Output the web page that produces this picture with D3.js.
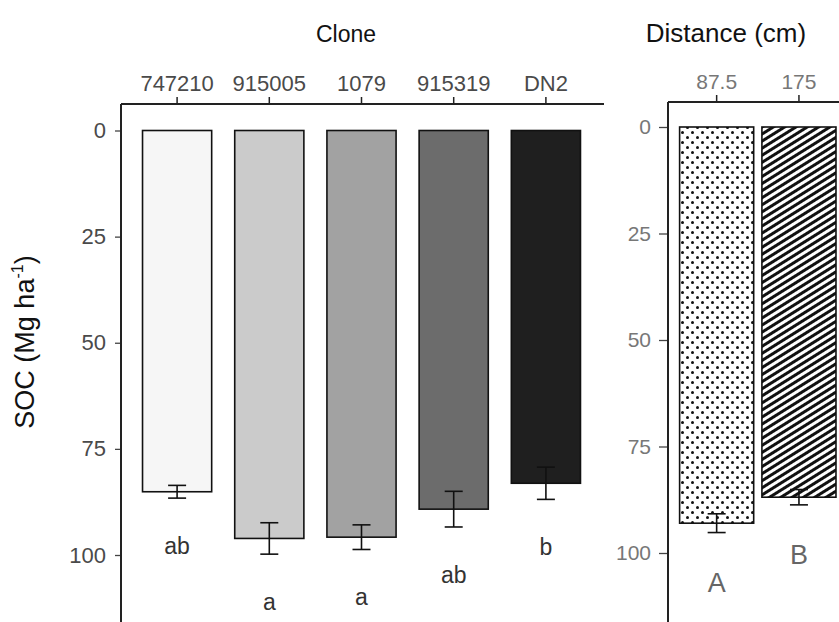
<!DOCTYPE html>
<html>
<head>
<meta charset="utf-8">
<script src="https://cdn.jsdelivr.net/npm/d3@7"></script>
<style>
  html, body { margin: 0; padding: 0; background: #fff; }
  svg { display: block; font-family: "Liberation Sans", Arial, sans-serif; }
</style>
</head>
<body>
<svg id="chart" width="839" height="622"></svg>
<script>
// Soil organic carbon stock by poplar clone and by distance from the tree row
const clones = ["747210", "915005", "1079", "915319", "DN2"];
const cloneSOC = [85.1, 96.1, 95.8, 89.2, 83.1];
const cloneSE = [1.5, 3.7, 2.9, 4.2, 3.8];
const cloneGroups = ["ab", "a", "a", "ab", "b"];

const distances = ["87.5", "175"];
const distanceSOC = [93.0, 86.9];
const distanceSE = [2.2, 1.8];
const distanceGroups = ["A", "B"];

const yTicks = [0, 25, 50, 75, 100];

const svg = d3.select("#chart");
const defs = svg.append("defs");

// stipple for the first distance
const dots = defs.append("pattern")
  .attr("id", "dots").attr("patternUnits", "userSpaceOnUse")
  .attr("width", 10).attr("height", 10);
dots.append("rect").attr("width", 10).attr("height", 10).attr("fill", "#fff");
dots.append("circle").attr("cx", 2.5).attr("cy", 2.5).attr("r", 1.5).attr("fill", "#111");
dots.append("circle").attr("cx", 7.5).attr("cy", 7.5).attr("r", 1.5).attr("fill", "#111");

// diagonal hatching for the second distance
const hatch = defs.append("pattern")
  .attr("id", "hatch").attr("patternUnits", "userSpaceOnUse")
  .attr("width", 10).attr("height", 6)
  .attr("patternTransform", "rotate(-32)");
hatch.append("rect").attr("width", 10).attr("height", 6).attr("fill", "#fff");
hatch.append("rect").attr("y", 0).attr("width", 10).attr("height", 3).attr("fill", "#111");

const cloneFill = d3.scaleOrdinal().domain(clones)
  .range(["#f6f6f6", "#cbcbcb", "#a2a2a2", "#6c6c6c", "#1f1f1f"]);
const distFill = d3.scaleOrdinal().domain(distances)
  .range(["url(#dots)", "url(#hatch)"]);

function panel(cfg) {
  const g = svg.append("g");
  const x = d3.scaleBand().domain(cfg.cats).range(cfg.xRange)
    .paddingInner(cfg.padIn).paddingOuter(cfg.padOut);
  const y = d3.scaleLinear().domain([0, 100]).range(cfg.yRange);

  // axes
  const top = g.append("g").attr("transform", `translate(0,${cfg.topY})`)
    .call(d3.axisTop(x).tickSize(7).tickSizeOuter(0).tickPadding(cfg.xPad));
  top.select(".domain").remove();
  top.selectAll("text").attr("font-size", cfg.xFont).attr("fill", cfg.labelColor)
    .attr("font-family", "Liberation Sans, Arial, sans-serif");
  top.selectAll("line").attr("stroke", "#222").attr("stroke-width", 1.5);
  g.append("line")
    .attr("x1", cfg.leftX).attr("x2", cfg.topEnd)
    .attr("y1", cfg.topY).attr("y2", cfg.topY)
    .attr("stroke", "#222").attr("stroke-width", 2);

  const left = g.append("g").attr("transform", `translate(${cfg.leftX},0)`)
    .call(d3.axisLeft(y).tickValues(yTicks).tickSize(cfg.yTickSize).tickSizeOuter(0)
      .tickPadding(cfg.yPad));
  left.select(".domain").remove();
  left.selectAll("text").attr("font-size", cfg.yFont).attr("fill", cfg.labelColor)
    .attr("font-family", "Liberation Sans, Arial, sans-serif");
  left.selectAll("line").attr("stroke", "#444").attr("stroke-width", 1.3);
  g.append("line")
    .attr("x1", cfg.leftX).attr("x2", cfg.leftX)
    .attr("y1", cfg.topY).attr("y2", 622)
    .attr("stroke", "#222").attr("stroke-width", 2);

  const rows = cfg.cats.map((c, i) => ({ c, m: cfg.mean[i], se: cfg.se[i], g: cfg.groups[i] }));

  // bars hang down from zero
  g.selectAll("rect.bar").data(rows).join("rect")
    .attr("class", "bar")
    .attr("x", d => x(d.c)).attr("width", x.bandwidth())
    .attr("y", y(0)).attr("height", d => y(d.m) - y(0))
    .attr("fill", d => cfg.fill(d.c))
    .attr("stroke", "#111").attr("stroke-width", 1.6);

  // standard error whiskers
  const eb = g.selectAll("g.err").data(rows).join("g").attr("class", "err")
    .attr("stroke", "#111").attr("stroke-width", 1.6);
  eb.append("line")
    .attr("x1", d => x(d.c) + x.bandwidth() / 2).attr("x2", d => x(d.c) + x.bandwidth() / 2)
    .attr("y1", d => y(d.m - d.se)).attr("y2", d => y(d.m + d.se));
  eb.append("line")
    .attr("x1", d => x(d.c) + x.bandwidth() / 2 - 9).attr("x2", d => x(d.c) + x.bandwidth() / 2 + 9)
    .attr("y1", d => y(d.m - d.se)).attr("y2", d => y(d.m - d.se));
  eb.append("line")
    .attr("x1", d => x(d.c) + x.bandwidth() / 2 - 9).attr("x2", d => x(d.c) + x.bandwidth() / 2 + 9)
    .attr("y1", d => y(d.m + d.se)).attr("y2", d => y(d.m + d.se));

  // significance groups
  g.selectAll("text.grp").data(rows).join("text")
    .attr("class", "grp")
    .attr("x", d => x(d.c) + x.bandwidth() / 2)
    .attr("y", d => y(d.m + d.se) + cfg.grpOffset)
    .attr("text-anchor", "middle")
    .attr("font-size", cfg.grpFont).attr("fill", cfg.grpColor)
    .text(d => d.g);

  g.append("text")
    .attr("x", cfg.titleX).attr("y", 42)
    .attr("text-anchor", "middle").attr("font-size", cfg.titleFont).attr("fill", "#111")
    .text(cfg.title);
}

panel({
  cats: clones, mean: cloneSOC, se: cloneSE, groups: cloneGroups, fill: cloneFill,
  xRange: [131, 592], padIn: 0.25, padOut: 0.125, yRange: [130.5, 555],
  topY: 104, leftX: 121, topEnd: 604, xPad: 6, yPad: 9, yTickSize: 6,
  xFont: 22, yFont: 22, labelColor: "#4a4a4a",
  grpOffset: 56, grpFont: 23, grpColor: "#333",
  title: "Clone", titleX: 346, titleFont: 23
});

panel({
  cats: distances, mean: distanceSOC, se: distanceSE, groups: distanceGroups, fill: distFill,
  xRange: [675.5, 840.1], padIn: 0.1, padOut: 0.05, yRange: [127, 553],
  topY: 102, leftX: 668, topEnd: 839, xPad: 6, yPad: 8, yTickSize: 9,
  xFont: 21, yFont: 21, labelColor: "#777",
  grpOffset: 59, grpFont: 27, grpColor: "#666",
  title: "Distance (cm)", titleX: 726, titleFont: 26
});

// y axis title
const yl = svg.append("text")
  .attr("transform", "translate(34,342) rotate(-90)")
  .attr("text-anchor", "middle").attr("font-size", 27).attr("fill", "#111");
yl.append("tspan").text("SOC (Mg ha");
yl.append("tspan").attr("font-size", 16).attr("dy", -11).text("-1");
yl.append("tspan").attr("dy", 11).text(")");
</script>
</body>
</html>
